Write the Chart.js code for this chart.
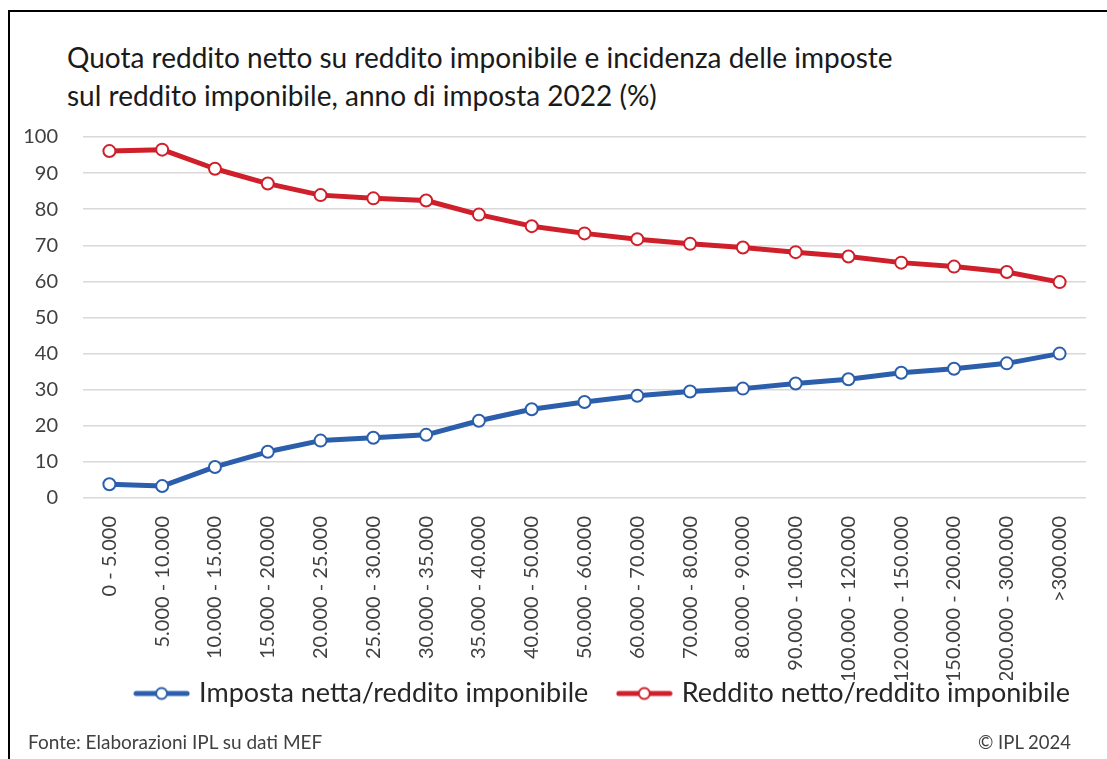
<!DOCTYPE html>
<html><head><meta charset="utf-8">
<script src="https://cdn.jsdelivr.net/npm/chart.js@4/dist/chart.umd.min.js"></script>
<style>
html,body{margin:0;padding:0;background:#fff;}
body{width:1107px;height:759px;position:relative;overflow:hidden;font-family:Lato,"Noto Sans",sans-serif;}
#frame{position:absolute;left:8px;top:10px;width:1099px;height:749px;border-top:2px solid #000;border-left:2px solid #000;box-sizing:border-box;}
#title{position:absolute;left:67px;top:38px;font-size:28px;line-height:38px;color:#1a1a1a;white-space:nowrap;}
#src{position:absolute;left:28px;top:731px;font-size:19px;line-height:22px;color:#404040;white-space:nowrap;}
#copy{position:absolute;right:36px;top:731px;font-size:18.5px;line-height:22px;color:#404040;white-space:nowrap;}
#chart{position:absolute;left:0;top:0;}
</style></head>
<body>
<div id="frame"></div>
<div id="title">Quota reddito netto su reddito imponibile e incidenza delle imposte<br>sul reddito imponibile, anno di imposta 2022 (%)</div>
<canvas id="chart" width="1107" height="759"></canvas>
<div id="src">Fonte: Elaborazioni IPL su dati MEF</div>
<div id="copy">© IPL 2024</div>
<script>
const categories = ["0 - 5.000","5.000 - 10.000","10.000 - 15.000","15.000 - 20.000","20.000 - 25.000","25.000 - 30.000","30.000 - 35.000","35.000 - 40.000","40.000 - 50.000","50.000 - 60.000","60.000 - 70.000","70.000 - 80.000","80.000 - 90.000","90.000 - 100.000","100.000 - 120.000","120.000 - 150.000","150.000 - 200.000","200.000 - 300.000",">300.000"];
const impostaNetta = [3.8,3.3,8.6,12.8,15.9,16.7,17.5,21.4,24.6,26.6,28.3,29.5,30.3,31.7,32.9,34.7,35.8,37.3,40.0];
const redditoNetto = [96.1,96.5,91.2,87.1,83.9,83.0,82.4,78.5,75.3,73.3,71.7,70.4,69.4,68.1,66.9,65.2,64.1,62.6,59.8];
const seriesNames = ["Imposta netta/reddito imponibile","Reddito netto/reddito imponibile"];
const yTicks = {min:0,max:100,step:10};

const BLUE = '#2B5EAB', RED = '#CF1F2A';
function legendIcon(color){
  const c = document.createElement('canvas');
  c.width = 57; c.height = 16;
  const g = c.getContext('2d');
  g.strokeStyle = color; g.lineWidth = 5; g.lineCap = 'round';
  g.beginPath(); g.moveTo(3,8); g.lineTo(54,8); g.stroke();
  g.beginPath(); g.arc(28.5,8,5.5,0,Math.PI*2);
  g.fillStyle = '#fff'; g.fill(); g.lineWidth = 2; g.stroke();
  return c;
}
const icons = [legendIcon(BLUE), legendIcon(RED)];

const legendShift = {
  id: 'legendShift',
  afterLayout(chart){
    const l = chart.legend;
    if (l) { l.top -= 32; l.bottom -= 32; }
  }
};

new Chart(document.getElementById('chart'), {
  type: 'line',
  data: {
    labels: categories,
    datasets: [
      {label: seriesNames[0], data: impostaNetta, borderColor: BLUE, backgroundColor: BLUE, borderWidth: 5,
       pointRadius: 6, pointBorderWidth: 2, pointBackgroundColor: '#fff', pointBorderColor: BLUE,
       borderJoinStyle: 'round', borderCapStyle: 'round', tension: 0},
      {label: seriesNames[1], data: redditoNetto, borderColor: RED, backgroundColor: RED, borderWidth: 5,
       pointRadius: 6, pointBorderWidth: 2, pointBackgroundColor: '#fff', pointBorderColor: RED,
       borderJoinStyle: 'round', borderCapStyle: 'round', tension: 0}
    ]
  },
  plugins: [legendShift],
  options: {
    responsive: false,
    animation: false,
    devicePixelRatio: 1,
    layout: {padding: {left: 10, right: 5, top: 137, bottom: 10}},
    plugins: {
      title: {display: false},
      tooltip: {enabled: false},
      legend: {
        position: 'bottom', align: 'end',
        labels: {
          usePointStyle: true, pointStyleWidth: 48, padding: 32,
          color: '#262626', font: {family: 'Lato', size: 27},
          generateLabels(chart){
            const items = Chart.defaults.plugins.legend.labels.generateLabels(chart);
            items.forEach((it,i)=>{ it.pointStyle = icons[i]; });
            return items;
          }
        }
      }
    },
    scales: {
      x: {
        offset: true,
        grid: {display: false, drawTicks: false},
        border: {display: false},
        ticks: {autoSkip: false, minRotation: 90, maxRotation: 90, padding: 18, color: '#404040', font: {family: 'Lato', size: 20}},
        afterFit(s){ s.height = 182; }
      },
      y: {
        min: yTicks.min, max: yTicks.max,
        grid: {color: '#d9d9d9', lineWidth: 1.5, drawTicks: false},
        border: {display: false},
        ticks: {stepSize: yTicks.step, padding: 25, color: '#404040', font: {family: 'Lato', size: 20}},
        afterFit(s){ s.width = 73; }
      },
      yR: {
        position: 'right', display: true,
        grid: {display: false, drawTicks: false}, border: {display: false},
        ticks: {display: false},
        afterFit(s){ s.width = 16; }
      }
    }
  }
});
</script>
</body></html>
